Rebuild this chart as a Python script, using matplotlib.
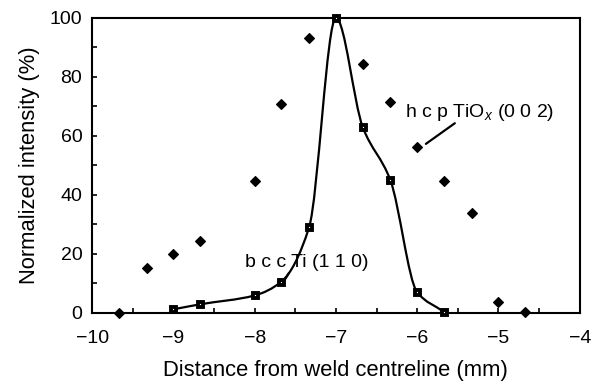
import numpy as np
import matplotlib
matplotlib.use('Agg')
import matplotlib.pyplot as plt
from matplotlib.path import Path
from matplotlib.patches import PathPatch

plt.rcParams['font.family'] = ['Liberation Sans', 'DejaVu Sans']
plt.rcParams['mathtext.fontset'] = 'custom'
plt.rcParams['mathtext.it'] = 'Liberation Sans:italic'
plt.rcParams['mathtext.rm'] = 'Liberation Sans'

# hcp TiOx (002) - diamonds
hcp_x = [-9.67, -9.33, -9.0, -8.67, -8.0, -7.67, -7.33, -6.67, -6.33, -6.0, -5.67, -5.33, -5.0, -4.67]
hcp_y = [0.0, 15.2, 20.0, 24.2, 44.8, 70.8, 93.2, 84.5, 71.5, 56.2, 44.6, 34.0, 3.8, 0.3]

# bcc Ti (110) - squares
bcc_x = [-9.0, -8.67, -8.0, -7.67, -7.33, -7.0, -6.67, -6.33, -6.0, -5.67]
bcc_y = [1.2, 2.9, 5.9, 10.6, 29.0, 100.0, 63.0, 45.0, 7.0, 0.3]


def smooth_path(xs, ys):
    # monotone cubic (Fritsch-Carlson) tangents -> bezier segments
    x = np.asarray(xs, float)
    y = np.asarray(ys, float)
    h = np.diff(x)
    d = np.diff(y) / h
    m = np.zeros_like(y)
    m[0] = d[0]
    m[-1] = d[-1]
    for i in range(1, len(x) - 1):
        if d[i - 1] * d[i] <= 0:
            m[i] = 0
        else:
            w1 = 2 * h[i] + h[i - 1]
            w2 = h[i] + 2 * h[i - 1]
            m[i] = (w1 + w2) / (w1 / d[i - 1] + w2 / d[i])
    verts = [(x[0], y[0])]
    codes = [Path.MOVETO]
    for i in range(len(x) - 1):
        verts += [(x[i] + h[i] / 3, y[i] + m[i] * h[i] / 3),
                  (x[i + 1] - h[i] / 3, y[i + 1] - m[i + 1] * h[i] / 3),
                  (x[i + 1], y[i + 1])]
        codes += [Path.CURVE4] * 3
    return Path(verts, codes)


fig = plt.figure(figsize=(5.94, 3.82), dpi=100)
ax = fig.add_axes([0.155, 0.181, 0.821, 0.772])

ax.add_patch(PathPatch(smooth_path(bcc_x, bcc_y), facecolor='none',
                       edgecolor='black', lw=1.6, zorder=2))
ax.plot(hcp_x, hcp_y, linestyle='none', marker='D', markersize=5,
        mew=0.8, color='black', zorder=3, clip_on=False)
ax.plot(bcc_x, bcc_y, linestyle='none', marker='s', markersize=3.6,
        markerfacecolor='white', markeredgecolor='black', mew=2.8,
        zorder=4, clip_on=False)

ax.set_xlim(-10, -4)
ax.set_ylim(0, 100)
ax.set_xticks(np.arange(-10, -3, 1))
ax.set_xticks(np.arange(-10, -4, 0.5), minor=True)
ax.set_yticks(np.arange(0, 101, 20))
ax.set_yticks(np.arange(0, 100, 10), minor=True)
ax.tick_params(which='both', direction='in', length=3.8, width=1.2,
               labelsize=14, top=False, right=False)
ax.tick_params(axis='x', pad=12)
ax.tick_params(axis='y', pad=7)
for s in ax.spines.values():
    s.set_linewidth(1.5)

ax.set_xlabel('Distance from weld centreline (mm)', fontsize=15.8, labelpad=10)
ax.set_ylabel('Normalized intensity (%)', fontsize=15.8, labelpad=7)

# labels with leader lines
ax.text(-8.115, 15.7, 'b c c Ti (1 1 0)', fontsize=14, ha='left', va='baseline')
ax.annotate('', xy=(-7.643, 10.6), xytext=(-7.578, 13.5),
            arrowprops=dict(arrowstyle='-', lw=1.6, color='black',
                            shrinkA=0, shrinkB=0))
ax.text(-6.155, 66.5, 'h c p TiO$_x$ (0 0 2)', fontsize=14, ha='left', va='baseline')
ax.annotate('', xy=(-5.893, 57.3), xytext=(-5.537, 64.3),
            arrowprops=dict(arrowstyle='-', lw=1.6, color='black',
                            shrinkA=0, shrinkB=0))

fig.savefig('out.png', dpi=100)
